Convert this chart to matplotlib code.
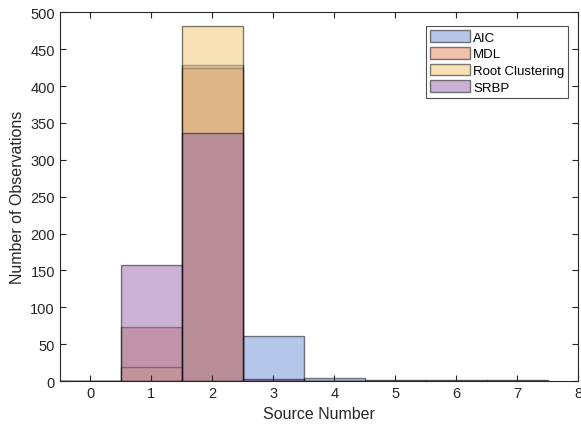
import numpy as np
import matplotlib
matplotlib.use("Agg")
import matplotlib.pyplot as plt

plt.rcParams['font.family'] = ['Liberation Sans', 'DejaVu Sans']

bins = np.arange(0, 8)
aic = [0, 0, 429, 61, 4, 2, 2, 1]
mdl = [0, 74, 425, 0, 0, 0, 0, 0]
root = [0, 19, 481, 0, 0, 0, 0, 0]
srbp = [0, 158, 337, 3, 0, 0, 0, 0]
names = ["AIC", "MDL", "Root Clustering", "SRBP"]
colors = ["#6a8fd6", "#e3875a", "#f2c46c", "#9466a8"]

fig = plt.figure(figsize=(5.81, 4.27), dpi=100)
ax = fig.add_axes([0.103, 0.105, 0.892, 0.864])

for vals, name, c in zip([aic, mdl, root, srbp], names, colors):
    ax.bar(bins, vals, width=1.0, color=c, alpha=0.5, label=name,
           edgecolor=(0, 0, 0, 0.45), linewidth=1.0)

ax.set_xlim(-0.5, 8)
ax.set_ylim(0, 500)
ax.set_xticks(range(0, 9))
ax.set_yticks(range(0, 501, 50))
ax.tick_params(direction='in', top=True, right=True, labelsize=10.5,
               colors='#262626', length=4)
for s in ax.spines.values():
    s.set_color('#262626')
    s.set_linewidth(0.8)
ax.set_xlabel("Source Number", fontsize=11.5, color='#262626')
ax.set_ylabel("Number of Observations", fontsize=11.5, color='#262626')

leg = ax.legend(loc='upper right', bbox_to_anchor=(0.981, 0.962), fontsize=9.5,
                frameon=True, fancybox=False, edgecolor='#262626',
                handlelength=3.0, handleheight=1.0, labelspacing=0.25,
                borderpad=0.3, handletextpad=0.25, borderaxespad=0)
leg.get_frame().set_linewidth(0.8)

plt.savefig("out.png", dpi=100)
